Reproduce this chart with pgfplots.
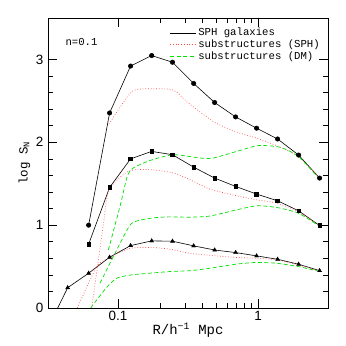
\documentclass[border=0pt]{standalone}
\usepackage{fontspec}
\setmainfont{Liberation Mono}
\setsansfont{Liberation Sans}
\usepackage{pgfplots}
\pgfplotsset{compat=1.18}
\definecolor{myred}{RGB}{255,70,70}
\definecolor{mygreen}{RGB}{0,225,0}
\begin{document}
\begin{tikzpicture}
\path[use as bounding box] (-48bp,-38bp) rectangle (298bp,308bp);
\begin{semilogxaxis}[
  scale only axis, width=280bp, height=290bp,
  at={(0,0)}, anchor=south west,
  xmin=0.031623, xmax=3.16228, ymin=0, ymax=3.5,
  ytick={0,1,2,3}, minor y tick num=4,
  xtick={0.1,1}, xticklabels={0.1,1},
  tick align=inside, major tick length=9bp, minor tick length=5bp,
  tick style={black, line width=0.6pt},
  axis line style={line width=0.8pt},
  /pgf/number format/assume math mode=true,
  ticklabel style={font=\sffamily\fontsize{13.5}{13.5}\selectfont},
  yticklabel style={xshift=-1bp},
  xlabel={R/h\textsuperscript{−1} Mpc},
  ylabel={log S\textsubscript{N}},
  xlabel style={font=\fontsize{14}{14}\selectfont, yshift=5bp},
  ylabel style={font=\fontsize{12.5}{13}\selectfont, yshift=-1bp},
  legend style={draw=none, fill=none, at={(rel axis cs:1,1)}, anchor=north east, xshift=-5bp, yshift=-7bp,
    font=\fontsize{10.7}{10}\selectfont, row sep=-1.5bp, inner sep=1pt},
  legend cell align=left,
  legend image code/.code={\draw[#1] (0cm,0cm) -- (0.9cm,0cm);},
]
\addlegendimage{black, line width=0.6pt}
\addlegendentry{SPH galaxies}
\addlegendimage{myred, dotted, line width=0.7pt}
\addlegendentry{substructures (SPH)}
\addlegendimage{mygreen, dashed, dash pattern=on 4bp off 2.5bp, line width=0.7pt}
\addlegendentry{substructures (DM)}

% SPH galaxies: top (circles)
\addplot[black, line width=0.6pt, mark=*, mark size=2.2pt, forget plot] coordinates {
(0.0617,1.00) (0.0871,2.354) (0.123,2.92) (0.174,3.047) (0.245,2.966) (0.347,2.71)
(0.490,2.48) (0.692,2.306) (0.977,2.17) (1.380,2.04) (1.950,1.846) (2.754,1.568)};
% middle (squares)
\addplot[black, line width=0.6pt, mark=square*, mark size=1.8pt, forget plot] coordinates {
(0.0617,0.77) (0.0871,1.455) (0.123,1.80) (0.174,1.89) (0.245,1.85) (0.347,1.70)
(0.490,1.568) (0.692,1.467) (0.977,1.375) (1.380,1.294) (1.950,1.173) (2.754,0.995)};
% bottom (triangles)
\addplot[black, line width=0.6pt, forget plot] coordinates {
(0.0371,0) (0.0437,0.245) (0.0617,0.42) (0.0871,0.613) (0.123,0.753) (0.174,0.81) (0.245,0.806) (0.347,0.75)
(0.490,0.70) (0.692,0.669) (0.977,0.629) (1.380,0.588) (1.950,0.528) (2.754,0.451)};
\addplot[black, only marks, mark=triangle*, mark size=2.3pt, forget plot] coordinates {
(0.0437,0.245) (0.0617,0.42) (0.0871,0.613) (0.123,0.753) (0.174,0.81) (0.245,0.806) (0.347,0.75)
(0.490,0.70) (0.692,0.669) (0.977,0.629) (1.380,0.588) (1.950,0.528) (2.754,0.451)};

% substructures SPH (red dotted)
\addplot[myred, dotted, line width=0.7pt, smooth, tension=0.4, forget plot] coordinates {
(0.0863,2.22) (0.1253,2.61) (0.1742,2.645) (0.2483,2.63) (0.3178,2.475) (0.4797,2.25)
(0.6851,2.13) (0.9796,2.05) (1.396,1.95) (1.94,1.83) (2.773,1.56)};
\addplot[myred, dotted, line width=0.7pt, smooth, tension=0.4, forget plot] coordinates {
(0.0649,0) (0.0785,1.0) (0.0863,1.43) (0.1185,1.65) (0.1693,1.67) (0.2483,1.63) (0.3268,1.548)
(0.4541,1.435) (0.7043,1.354) (0.9796,1.306) (1.36,1.266) (1.94,1.165) (2.773,0.99)};
\addplot[myred, dotted, line width=0.7pt, smooth, tension=0.4, forget plot] coordinates {
(0.0512,0) (0.0705,0.50) (0.0877,0.61) (0.1218,0.72) (0.1742,0.73) (0.2351,0.71) (0.3268,0.66)
(0.4931,0.63) (0.7043,0.61) (0.9796,0.60) (1.36,0.58) (1.94,0.52) (2.773,0.44)};

% substructures DM (green dashed)
\addplot[mygreen, dash pattern=on 4bp off 2.5bp, line width=0.7pt, smooth, tension=0.4, forget plot] coordinates {
(0.0853,0.70) (0.1033,1.225) (0.1165,1.59) (0.1286,1.69) (0.1693,1.78) (0.2483,1.85) (0.3853,1.81)
(0.4797,1.81) (0.7043,1.89) (1.005,1.96) (1.436,1.94) (1.94,1.83) (2.773,1.55)};
\addplot[mygreen, dash pattern=on 4bp off 2.5bp, line width=0.7pt, smooth, tension=0.4, forget plot] coordinates {
(0.0744,0.30) (0.0952,0.66) (0.1218,1.0) (0.1436,1.06) (0.1837,1.09) (0.2351,1.10) (0.3268,1.096)
(0.4541,1.11) (0.7043,1.185) (0.9796,1.233) (1.36,1.213) (1.94,1.145) (2.773,0.983)};
\addplot[mygreen, dash pattern=on 4bp off 2.5bp, line width=0.7pt, smooth, tension=0.4, forget plot] coordinates {
(0.0638,0) (0.0821,0.24) (0.0979,0.36) (0.1253,0.40) (0.1693,0.42) (0.2351,0.44) (0.3268,0.45)
(0.4541,0.48) (0.7043,0.53) (0.9796,0.55) (1.36,0.54) (1.94,0.50) (2.773,0.44)};

\node[anchor=west, font=\fontsize{10.7}{10}\selectfont] at (rel axis cs:0.05,0.917) {n=0.1};
\end{semilogxaxis}
\end{tikzpicture}
\end{document}
